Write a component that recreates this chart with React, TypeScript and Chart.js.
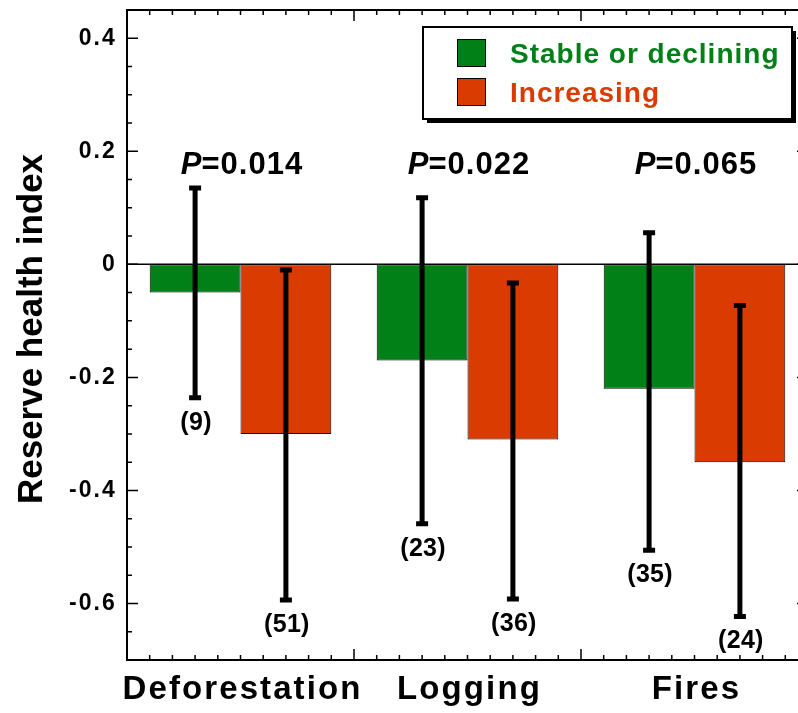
import React, { useEffect, useRef } from "react";
import { Chart, registerables } from "chart.js";

Chart.register(...registerables);

const categories = ["Deforestation", "Logging", "Fires"];
const seriesNames = ["Stable or declining", "Increasing"];
const stableValues = [-0.05, -0.17, -0.22];
const increasingValues = [-0.3, -0.31, -0.35];
const stableErrHigh = [0.135, 0.118, 0.056];
const stableErrLow = [-0.236, -0.459, -0.506];
const increasingErrHigh = [-0.01, -0.033, -0.073];
const increasingErrLow = [-0.594, -0.592, -0.623];
const stableN = ["(9)", "(23)", "(35)"];
const increasingN = ["(51)", "(36)", "(24)"];
const pValues = ["0.014", "0.022", "0.065"];
const yTickValues = [-0.6, -0.4, -0.2, 0, 0.2, 0.4];
const yTickLabels = ["-0.6", "-0.4", "-0.2", "0", "0.2", "0.4"];
const yMin = -0.7;
const yMax = 0.45;
const yTitle = "Reserve health index";

const FONT = '"Liberation Sans", Arial, Helvetica, sans-serif';
const GREEN = "#008016";
const RED = "#D93B00";
const COLORS = [GREEN, RED];

const errHigh = [stableErrHigh, increasingErrHigh];
const errLow = [stableErrLow, increasingErrLow];
const nLabels = [stableN, increasingN];

const decorPlugin = {
  id: "decor",
  beforeDraw(chart: any) {
    chart.ctx.letterSpacing = "2.1px";
  },
  afterDatasetsDraw(chart: any) {
    const ctx = chart.ctx;
    const { left, right } = chart.chartArea;
    const ys = chart.scales.y;
    ctx.save();
    const y0 = ys.getPixelForValue(0);
    ctx.strokeStyle = "#000";
    ctx.lineWidth = 1.5;
    ctx.beginPath();
    ctx.moveTo(left, y0);
    ctx.lineTo(right, y0);
    ctx.stroke();

    for (let d = 0; d < 2; d++) {
      const meta = chart.getDatasetMeta(d);
      meta.data.forEach((bar: any, i: number) => {
        const x = bar.x;
        const yh = ys.getPixelForValue(errHigh[d][i]);
        const yl = ys.getPixelForValue(errLow[d][i]);
        ctx.strokeStyle = "#000";
        ctx.lineWidth = 5;
        ctx.lineCap = "butt";
        ctx.beginPath();
        ctx.moveTo(x, yh);
        ctx.lineTo(x, yl);
        ctx.stroke();
        ctx.beginPath();
        ctx.moveTo(x - 6, yh);
        ctx.lineTo(x + 6, yh);
        ctx.moveTo(x - 6, yl);
        ctx.lineTo(x + 6, yl);
        ctx.stroke();
        ctx.fillStyle = "#000";
        ctx.font = `bold 25px ${FONT}`;
        ctx.letterSpacing = "0.3px";
        ctx.textAlign = "center";
        ctx.textBaseline = "middle";
        ctx.fillText(nLabels[d][i], x + 1, yl + 25);
      });
    }
    ctx.restore();
  },
  afterDraw(chart: any) {
    const ctx = chart.ctx;
    const { left, right, top, bottom } = chart.chartArea;
    const xs = chart.scales.x;
    const ys = chart.scales.y;
    ctx.save();
    ctx.strokeStyle = "#000";
    ctx.fillStyle = "#000";

    ctx.lineWidth = 2;
    ctx.strokeRect(left, top, right - left, bottom - top);

    ctx.lineWidth = 1.5;
    const kMin = Math.round(yMin / 0.05);
    const kMax = Math.round(yMax / 0.05);
    for (let k = kMin + 1; k < kMax; k++) {
      const y = ys.getPixelForValue(k * 0.05);
      const len = k % 4 === 0 ? 11 : 5;
      ctx.beginPath();
      ctx.moveTo(left, y);
      ctx.lineTo(left + len, y);
      ctx.moveTo(right, y);
      ctx.lineTo(right - len, y);
      ctx.stroke();
    }
    const cw = (right - left) / categories.length;
    for (let j = 1; j < categories.length * 10; j++) {
      const x = left + (j * cw) / 10;
      const len = j % 10 === 0 ? 11 : 5;
      ctx.beginPath();
      ctx.moveTo(x, bottom);
      ctx.lineTo(x, bottom - len);
      ctx.moveTo(x, top);
      ctx.lineTo(x, top + len);
      ctx.stroke();
    }

    categories.forEach((c, i) => {
      const cx = xs.getPixelForValue(i) + 2;
      const by = top + 164;
      ctx.letterSpacing = "1px";
      ctx.font = `italic bold 31px ${FONT}`;
      const wP = ctx.measureText("P").width;
      ctx.font = `bold 31px ${FONT}`;
      const rest = "=" + pValues[i];
      const wR = ctx.measureText(rest).width;
      const sx = cx - (wP + wR) / 2;
      ctx.textAlign = "left";
      ctx.textBaseline = "alphabetic";
      ctx.font = `italic bold 31px ${FONT}`;
      ctx.fillText("P", sx, by);
      ctx.font = `bold 31px ${FONT}`;
      ctx.fillText(rest, sx + wP - 1, by);
    });

    ctx.save();
    ctx.letterSpacing = "0px";
    ctx.translate(42, (top + bottom) / 2 - 6);
    ctx.rotate(-Math.PI / 2);
    ctx.font = `bold 35px ${FONT}`;
    ctx.textAlign = "center";
    ctx.textBaseline = "alphabetic";
    ctx.fillText(yTitle, 0, 0);
    ctx.restore();

    const bx = left + 296;
    const by = top + 17;
    const bw = 369;
    const bh = 92;
    ctx.fillStyle = "#000";
    ctx.fillRect(bx + 4, by + 4, bw, bh);
    ctx.fillStyle = "#fff";
    ctx.fillRect(bx, by, bw, bh);
    ctx.lineWidth = 2;
    ctx.strokeStyle = "#000";
    ctx.strokeRect(bx, by, bw, bh);
    seriesNames.forEach((name, i) => {
      const sy = by + 12 + i * 39;
      ctx.fillStyle = COLORS[i];
      ctx.fillRect(bx + 34, sy, 29, 28);
      ctx.lineWidth = 1;
      ctx.strokeStyle = "#000";
      ctx.strokeRect(bx + 34.5, sy + 0.5, 28, 27);
      ctx.font = `bold 28px ${FONT}`;
      ctx.letterSpacing = "1px";
      ctx.textAlign = "left";
      ctx.textBaseline = "alphabetic";
      ctx.fillText(name, bx + 87, sy + 24);
    });
    ctx.restore();
  },
};

export default function App() {
  const ref = useRef<HTMLCanvasElement | null>(null);
  useEffect(() => {
    document.body.style.margin = "0";
    const canvas = ref.current;
    if (!canvas) return;
    const chart = new Chart(canvas, {
      type: "bar",
      data: {
        labels: categories,
        datasets: [
          {
            label: seriesNames[0],
            data: stableValues,
            backgroundColor: GREEN,
            borderColor: "#000",
            borderWidth: 1,
            borderSkipped: false,
            categoryPercentage: 0.8,
            barPercentage: 1.0,
          },
          {
            label: seriesNames[1],
            data: increasingValues,
            backgroundColor: RED,
            borderColor: "#000",
            borderWidth: 1,
            borderSkipped: false,
            categoryPercentage: 0.8,
            barPercentage: 1.0,
          },
        ],
      },
      options: {
        responsive: false,
        animation: false,
        layout: { padding: { top: 10, right: 22, left: 0, bottom: 0 } },
        plugins: { legend: { display: false }, tooltip: { enabled: false } },
        scales: {
          x: {
            type: "category",
            offset: true,
            grid: { display: false, drawTicks: false },
            border: { display: false },
            ticks: {
              color: "#000",
              font: { family: FONT, size: 33, weight: "bold" },
              padding: 10,
              labelOffset: 2,
              maxRotation: 0,
              minRotation: 0,
              autoSkip: false,
            },
            afterFit(scale: any) {
              scale.height = 53;
              scale.paddingLeft = 0;
              scale.paddingRight = 0;
            },
          },
          y: {
            min: yMin,
            max: yMax,
            grid: { display: false, drawTicks: false },
            border: { display: false },
            afterBuildTicks(scale: any) {
              scale.ticks = yTickValues.map((v) => ({ value: v }));
            },
            ticks: {
              color: "#000",
              font: { family: FONT, size: 23, weight: "bold" },
              padding: 10,
              callback: (v: any) => {
                const idx = yTickValues.findIndex((t) => Math.abs(t - Number(v)) < 1e-9);
                return idx >= 0 ? yTickLabels[idx] : "";
              },
            },
            afterFit(scale: any) {
              scale.width = 127;
              scale.paddingTop = 0;
              scale.paddingBottom = 0;
            },
          },
        },
      },
      plugins: [decorPlugin],
    } as any);
    return () => chart.destroy();
  }, []);
  return (
    <div style={{ width: 798, height: 713, overflow: "hidden", position: "relative" }}>
      <canvas ref={ref} width={830} height={713} style={{ display: "block", width: 830, height: 713 }} />
    </div>
  );
}
